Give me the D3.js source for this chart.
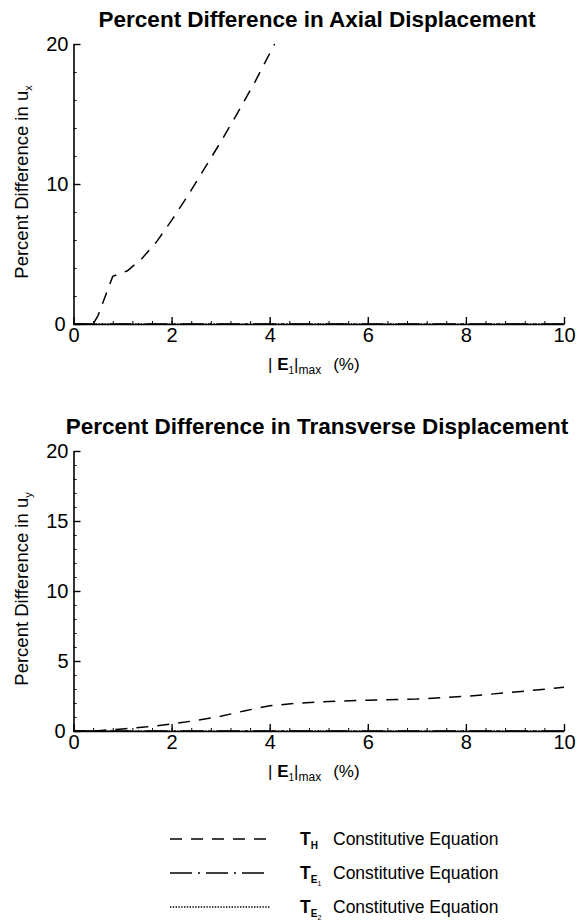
<!DOCTYPE html>
<html>
<head>
<meta charset="utf-8">
<script src="https://cdn.jsdelivr.net/npm/d3@7"></script>
<style>
  body { margin: 0; background: #fff; }
  svg text { font-family: "Liberation Sans", Arial, sans-serif; fill: #000; }
  .axis path, .axis line { stroke: #000; }
  .axis path { stroke-width: 1.6; }
</style>
</head>
<body>
<div id="chart"></div>
<script>
// strain |E1|max (%) and percent difference
var axialX  = [0, 0.4, 0.5, 0.8, 1.1, 1.4, 1.7, 2.0, 2.3, 2.6, 3.0, 3.3, 3.7, 4.1];
var axialTH = [0, 0, 0.6, 3.4, 3.8, 4.7, 5.9, 7.4, 9.0, 10.7, 13.0, 14.8, 17.3, 20];
var transX  = [0, 0.5, 1, 1.5, 2, 2.5, 3, 3.5, 4, 4.5, 5, 6, 7, 8, 9, 10];
var transTH = [0, 0.02, 0.15, 0.3, 0.5, 0.75, 1.05, 1.45, 1.8, 1.97, 2.08, 2.2, 2.28, 2.48, 2.78, 3.12];
// T_E1 and T_E2 lie on the zero line
var flatX = [0, 10];
var flatE1 = [0, 0];
var flatE2 = [0, 0];
var xTicks = [0, 2, 4, 6, 8, 10];
var legendSubs = ["H", "E1", "E2"];

var svg = d3.select("#chart").append("svg")
    .attr("width", 577).attr("height", 922);

var dashH = "12,9", dashE1 = "22,6,2,6", dashE2 = "1.4,1.4";

function panel(top, title, yMax, yMajor, yMinor, sub, th, thx) {
    var x = d3.scaleLinear().domain([0, 10]).range([73.5, 564]);
    var y = d3.scaleLinear().domain([0, yMax]).range([top + 280, top]);
    var g = svg.append("g");

    g.append("text").attr("x", 317).attr("y", top - 17)
        .attr("text-anchor", "middle").attr("font-size", 22.5).attr("font-weight", "bold")
        .text(title);

    // minor ticks
    g.append("g").attr("class", "axis").attr("transform", "translate(0," + y(0) + ")")
        .call(d3.axisBottom(x).tickValues(d3.range(0, 10.01, 0.4)).tickSize(-3).tickFormat(""))
        .select("path").remove();
    g.append("g").attr("class", "axis").attr("transform", "translate(" + x(0) + ",0)")
        .call(d3.axisLeft(y).tickValues(d3.range(0, yMax + 0.01, yMinor)).tickSize(-3).tickFormat(""))
        .select("path").remove();

    // major ticks and labels
    var xa = g.append("g").attr("class", "axis").attr("transform", "translate(0," + y(0) + ")")
        .call(d3.axisBottom(x).tickValues(xTicks).tickSizeInner(-7).tickSizeOuter(0).tickPadding(4)
            .tickFormat(d3.format("d")));
    xa.selectAll("text").attr("font-size", 20).attr("dy", "0.71em");
    xa.selectAll("line").attr("stroke-width", 1.4);
    var ya = g.append("g").attr("class", "axis").attr("transform", "translate(" + x(0) + ",0)")
        .call(d3.axisLeft(y).tickValues(d3.range(0, yMax + 0.01, yMajor)).tickSizeInner(-7).tickSizeOuter(0).tickPadding(5)
            .tickFormat(d3.format("d")));
    ya.selectAll("text").attr("font-size", 20).attr("dy", "0.34em")
        .attr("dx", function (d) { return d === 0 ? -3 : 0; });
    ya.selectAll("line").attr("stroke-width", 1.4);

    // axis titles
    var yl = g.append("text").attr("transform", "translate(28," + (top + 138) + ") rotate(-90)")
        .attr("text-anchor", "middle").attr("font-size", 18.5);
    yl.append("tspan").text("Percent Difference in u");
    yl.append("tspan").attr("font-size", 11).attr("dy", 4).text(sub);

    var xl = g.append("text").attr("x", 268).attr("y", top + 326).attr("font-size", 17);
    xl.append("tspan").text("| ");
    xl.append("tspan").attr("font-weight", "bold").text("E");
    xl.append("tspan").attr("font-size", 10).attr("dy", 4).text("1");
    xl.append("tspan").attr("dy", -4).text("|");
    xl.append("tspan").attr("font-size", 12).attr("dy", 4).text("max");
    xl.append("tspan").attr("dy", -4).attr("dx", 12).text("(%)");

    var line = d3.line().x(function (d) { return x(d[0]); }).y(function (d) { return y(d[1]); });
    g.append("path").datum(d3.zip(flatX, flatE2)).attr("d", line)
        .attr("fill", "none").attr("stroke", "#000").attr("stroke-width", 1.3).attr("stroke-dasharray", dashE2);
    g.append("path").datum(d3.zip(flatX, flatE1)).attr("d", line)
        .attr("fill", "none").attr("stroke", "#000").attr("stroke-width", 1.3).attr("stroke-dasharray", dashE1);
    g.append("path").datum(d3.zip(thx, th)).attr("d", line)
        .attr("fill", "none").attr("stroke", "#000").attr("stroke-width", 1.5).attr("stroke-dasharray", dashH);
}

panel(44, "Percent Difference in Axial Displacement", 20, 10, 2, "x", axialTH, axialX);
panel(451, "Percent Difference in Transverse Displacement", 20, 5, 1, "y", transTH, transX);

// legend
var dashes = [dashH, dashE1, dashE2];
legendSubs.forEach(function (s, i) {
    var base = 845 + i * 34;
    svg.append("line").attr("x1", 170).attr("x2", 270).attr("y1", base - 6).attr("y2", base - 6)
        .attr("stroke", "#000").attr("stroke-width", 1.5).attr("stroke-dasharray", dashes[i]);
    var t = svg.append("text").attr("x", 300).attr("y", base).attr("font-size", 17.5);
    t.append("tspan").attr("font-weight", "bold").text("T");
    if (s === "H") {
        t.append("tspan").attr("font-weight", "bold").attr("font-size", 10).attr("dy", 4).text("H");
        t.append("tspan").attr("dy", -4).attr("x", 333).text("Constitutive Equation");
    } else {
        t.append("tspan").attr("font-weight", "bold").attr("font-size", 10).attr("dy", 4).text("E");
        t.append("tspan").attr("font-size", 7).attr("dy", 3).text(s.slice(1));
        t.append("tspan").attr("dy", -7).attr("x", 333).text("Constitutive Equation");
    }
});
</script>
</body>
</html>
